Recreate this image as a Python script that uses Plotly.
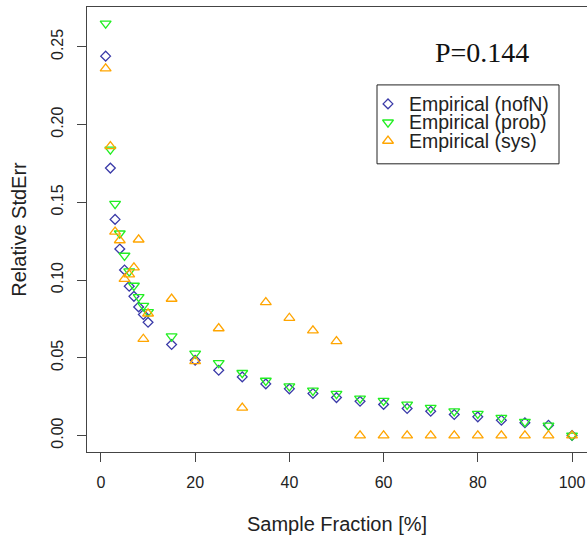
import plotly.graph_objects as go

sample_fraction = [1, 2, 3, 4, 5, 6, 7, 8, 9, 10, 15, 20, 25, 30, 35, 40, 45, 50,
                   55, 60, 65, 70, 75, 80, 85, 90, 95, 100]

emp_nofN = [0.244, 0.172, 0.139, 0.120, 0.1065, 0.096, 0.0895, 0.0827, 0.0778, 0.0728,
            0.0585, 0.0484, 0.042, 0.0377, 0.0332, 0.030, 0.027, 0.0244,
            0.022, 0.020, 0.0174, 0.0156, 0.0135, 0.012, 0.0098, 0.0082, 0.0066, 0.0]

emp_prob = [0.265, 0.184, 0.149, 0.130, 0.1157, 0.1056, 0.0964, 0.0891, 0.0835, 0.0795,
            0.0638, 0.0527, 0.0467, 0.0403, 0.0353, 0.0317, 0.0289, 0.0268,
            0.0238, 0.0224, 0.0199, 0.0178, 0.0156, 0.014, 0.0114, 0.0088, 0.0064, 0.0]

emp_sys = [0.236, 0.186, 0.131, 0.1255, 0.1007, 0.1035, 0.108, 0.126, 0.0621, 0.0784,
           0.0879, 0.0478, 0.0689, 0.0178, 0.0857, 0.0756, 0.0675, 0.0606,
           0.0, 0.0, 0.0, 0.0, 0.0, 0.0, 0.0, 0.0, 0.0, 0.0]

series_names = ["Empirical (nofN)", "Empirical (prob)", "Empirical (sys)"]
x_ticks = [0, 20, 40, 60, 80, 100]
y_ticks = [0.00, 0.05, 0.10, 0.15, 0.20, 0.25]
p_label = "P=0.144"

# figure geometry in window pixels (page body margin removed by post_script)
W, H = 587, 535
ML, MT = 87, 7
PLOT_BOTTOM = 452.5
MB = H - PLOT_BOTTOM

colors = ["#3a3aa8", "#22ee22", "#ffa500"]
symbols = ["diamond-open", "triangle-down-open", "triangle-up-open"]
sizes = [7.5, 9.5, 9.5]
series = [emp_nofN, emp_prob, emp_sys]

fig = go.Figure()
for name, ys, col, sym, sz in zip(series_names, series, colors, symbols, sizes):
    fig.add_trace(go.Scatter(x=sample_fraction, y=ys, mode="markers", name=name,
                             showlegend=False,
                             marker=dict(symbol=sym, size=sz, color=col,
                                         line=dict(width=1.3, color=col))))

# hand-drawn legend (box, keys, labels) in pixel coordinates on an overlay axis
leg_left, leg_right, leg_top, leg_bottom = 377, 559, 85, 164
key_x, text_x = 388, 407
row_y = [104, 122.5, 141]
for name, col, sym, sz, ry in zip(series_names, colors, symbols, sizes, row_y):
    fig.add_trace(go.Scatter(x=[key_x], y=[ry], xaxis="x2", yaxis="y2", mode="markers",
                             showlegend=False, hoverinfo="skip", cliponaxis=False,
                             marker=dict(symbol=sym, size=sz, color=col,
                                         line=dict(width=1.3, color=col))))

annotations = [dict(text=p_label, xref="x2", yref="y2", x=482, y=53,
                    xanchor="center", yanchor="middle", showarrow=False,
                    font=dict(family="Liberation Serif, Times New Roman, serif", size=28,
                              color="#111"))]
for name, ry in zip(series_names, row_y):
    annotations.append(dict(text=name, xref="x2", yref="y2", x=text_x, y=ry,
                            xanchor="left", yanchor="middle", showarrow=False,
                            font=dict(family="Liberation Sans, Arial, sans-serif", size=19.5,
                                      color="#222")))

shapes = [dict(type="rect", xref="x2", yref="y2", x0=leg_left, x1=leg_right,
               y0=leg_top, y1=leg_bottom, line=dict(color="#222", width=1),
               fillcolor="rgba(0,0,0,0)", layer="above")]

axis_font = dict(family="Liberation Sans, Arial, sans-serif", size=16, color="#222")
fig.update_layout(
    width=W, height=H,
    margin=dict(l=ML, r=0, t=MT, b=MB, autoexpand=False),
    paper_bgcolor="white", plot_bgcolor="white",
    font=dict(family="Liberation Sans, Arial, sans-serif", color="#222"),
    showlegend=False,
    xaxis=dict(range=[-2.96, 103.18], tickvals=x_ticks, ticks="outside", ticklen=9,
               tickcolor="#444", showline=True, linecolor="#444", linewidth=1, mirror=True,
               showgrid=False, zeroline=False, tickfont=axis_font, ticklabelstandoff=7,
               automargin=False,
               title=dict(text="Sample Fraction [%]", font=dict(size=20, color="#222"),
                          standoff=26)),
    yaxis=dict(range=[-0.0106, 0.2756], tickvals=y_ticks, tickformat=".2f", ticks="outside",
               ticklen=9, tickcolor="#444", showline=True, linecolor="#444", linewidth=1,
               showgrid=False, zeroline=False, tickfont=axis_font, tickangle=-90,
               ticklabelstandoff=8, automargin=False,
               title=dict(text="Relative StdErr", font=dict(size=20, color="#222"),
                          standoff=16)),
    xaxis2=dict(overlaying="x", range=[ML, W], visible=False, fixedrange=True),
    yaxis2=dict(overlaying="y", range=[PLOT_BOTTOM, MT], visible=False, fixedrange=True),
    annotations=annotations,
    shapes=shapes,
)

fig.write_html("out.html",
               config={"displayModeBar": False},
               post_script="document.body.style.margin='0';"
                           "document.body.style.overflow='hidden';")
